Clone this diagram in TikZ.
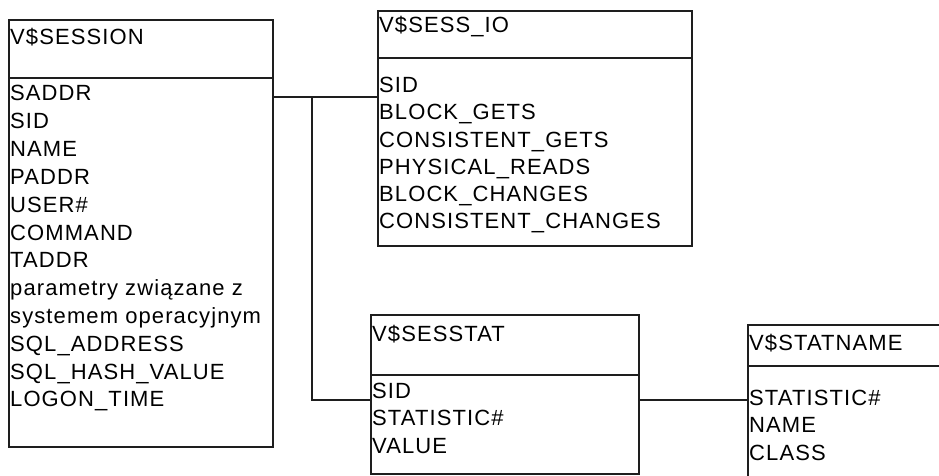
\documentclass[tikz,border=0pt]{standalone}
\usepackage{fontspec}
\setmainfont{Liberation Sans}[LetterSpace=5]
\usepackage{xcolor}
\usepackage{tikz}
\usetikzlibrary{positioning}
\definecolor{frame}{HTML}{1E1E1E}
\tikzset{
  tab/.style={draw=frame, line width=1.2pt, inner sep=0pt, outer sep=0pt, anchor=north west},
  title/.style={font=\fontsize{22}{26}\selectfont, anchor=base west, inner sep=0pt},
  field/.style={title},
  link/.style={draw=frame, line width=1.2pt}
}

\begin{document}
\begin{tikzpicture}[x=1pt, y=-1pt]
  \path[use as bounding box, clip] (0,0) rectangle (939,476);
  \fill[white] (0,0) rectangle (939,476);

  % V$SESSION
  \node[tab, minimum width=264, minimum height=58] (sessH) at (9,20) {};
  \node[tab, minimum width=264, minimum height=369, below=0pt of sessH] (sessB) {};
  \node[title] (sessT) at ([shift={(1,24.5)}]sessH.north west) {V\$SESSION};
  \foreach \f [count=\i from 0] in {SADDR,SID,NAME,PADDR,USER\#,COMMAND,TADDR,
      parametry związane z,systemem operacyjnym,SQL\_ADDRESS,SQL\_HASH\_VALUE,LOGON\_TIME}
    \node[field] (sess-\i) at ([shift={(1,23+27.8*\i)}]sessB.north west) {\f};

  % V$SESS_IO
  \node[tab, minimum width=314, minimum height=47] (ioH) at (378,11) {};
  \node[tab, minimum width=314, minimum height=188, below=0pt of ioH] (ioB) {};
  \node[title] (ioT) at ([shift={(1,22)}]ioH.north west) {V\$SESS\_IO};
  \foreach \f [count=\i from 0] in {SID,BLOCK\_GETS,CONSISTENT\_GETS,PHYSICAL\_READS,
      BLOCK\_CHANGES,CONSISTENT\_CHANGES}
    \node[field] (io-\i) at ([shift={(1,35+27*\i)}]ioB.north west) {\f};

  % V$SESSTAT
  \node[tab, minimum width=268, minimum height=60] (statH) at (371,315) {};
  \node[tab, minimum width=268, minimum height=99, below=0pt of statH] (statB) {};
  \node[title] (statT) at ([shift={(1,26)}]statH.north west) {V\$SESSTAT};
  \foreach \f [count=\i from 0] in {SID,STATISTIC\#,VALUE}
    \node[field] (stat-\i) at ([shift={(1,23+27.5*\i)}]statB.north west) {\f};

  % V$STATNAME (runs off the right and bottom edge)
  \node[tab, minimum width=260, minimum height=41] (nameH) at (748,325) {};
  \node[tab, minimum width=260, minimum height=160, below=0pt of nameH] (nameB) {};
  \node[title] (nameT) at ([shift={(1,25)}]nameH.north west) {V\$STATNAME};
  \foreach \f [count=\i from 0] in {STATISTIC\#,NAME,CLASS}
    \node[field] (name-\i) at ([shift={(1,39+27.5*\i)}]nameB.north west) {\f};

  % links
  \coordinate (j1) at (312,97);
  \coordinate (j2) at (312,400);
  \draw[link] (sessB.east |- j1) -- (ioB.west |- j1);
  \draw[link] (j1) -- (j2) -- (statB.west |- j2);
  \draw[link] (statB.east |- j2) -- (nameB.west |- j2);
\end{tikzpicture}
\end{document}
